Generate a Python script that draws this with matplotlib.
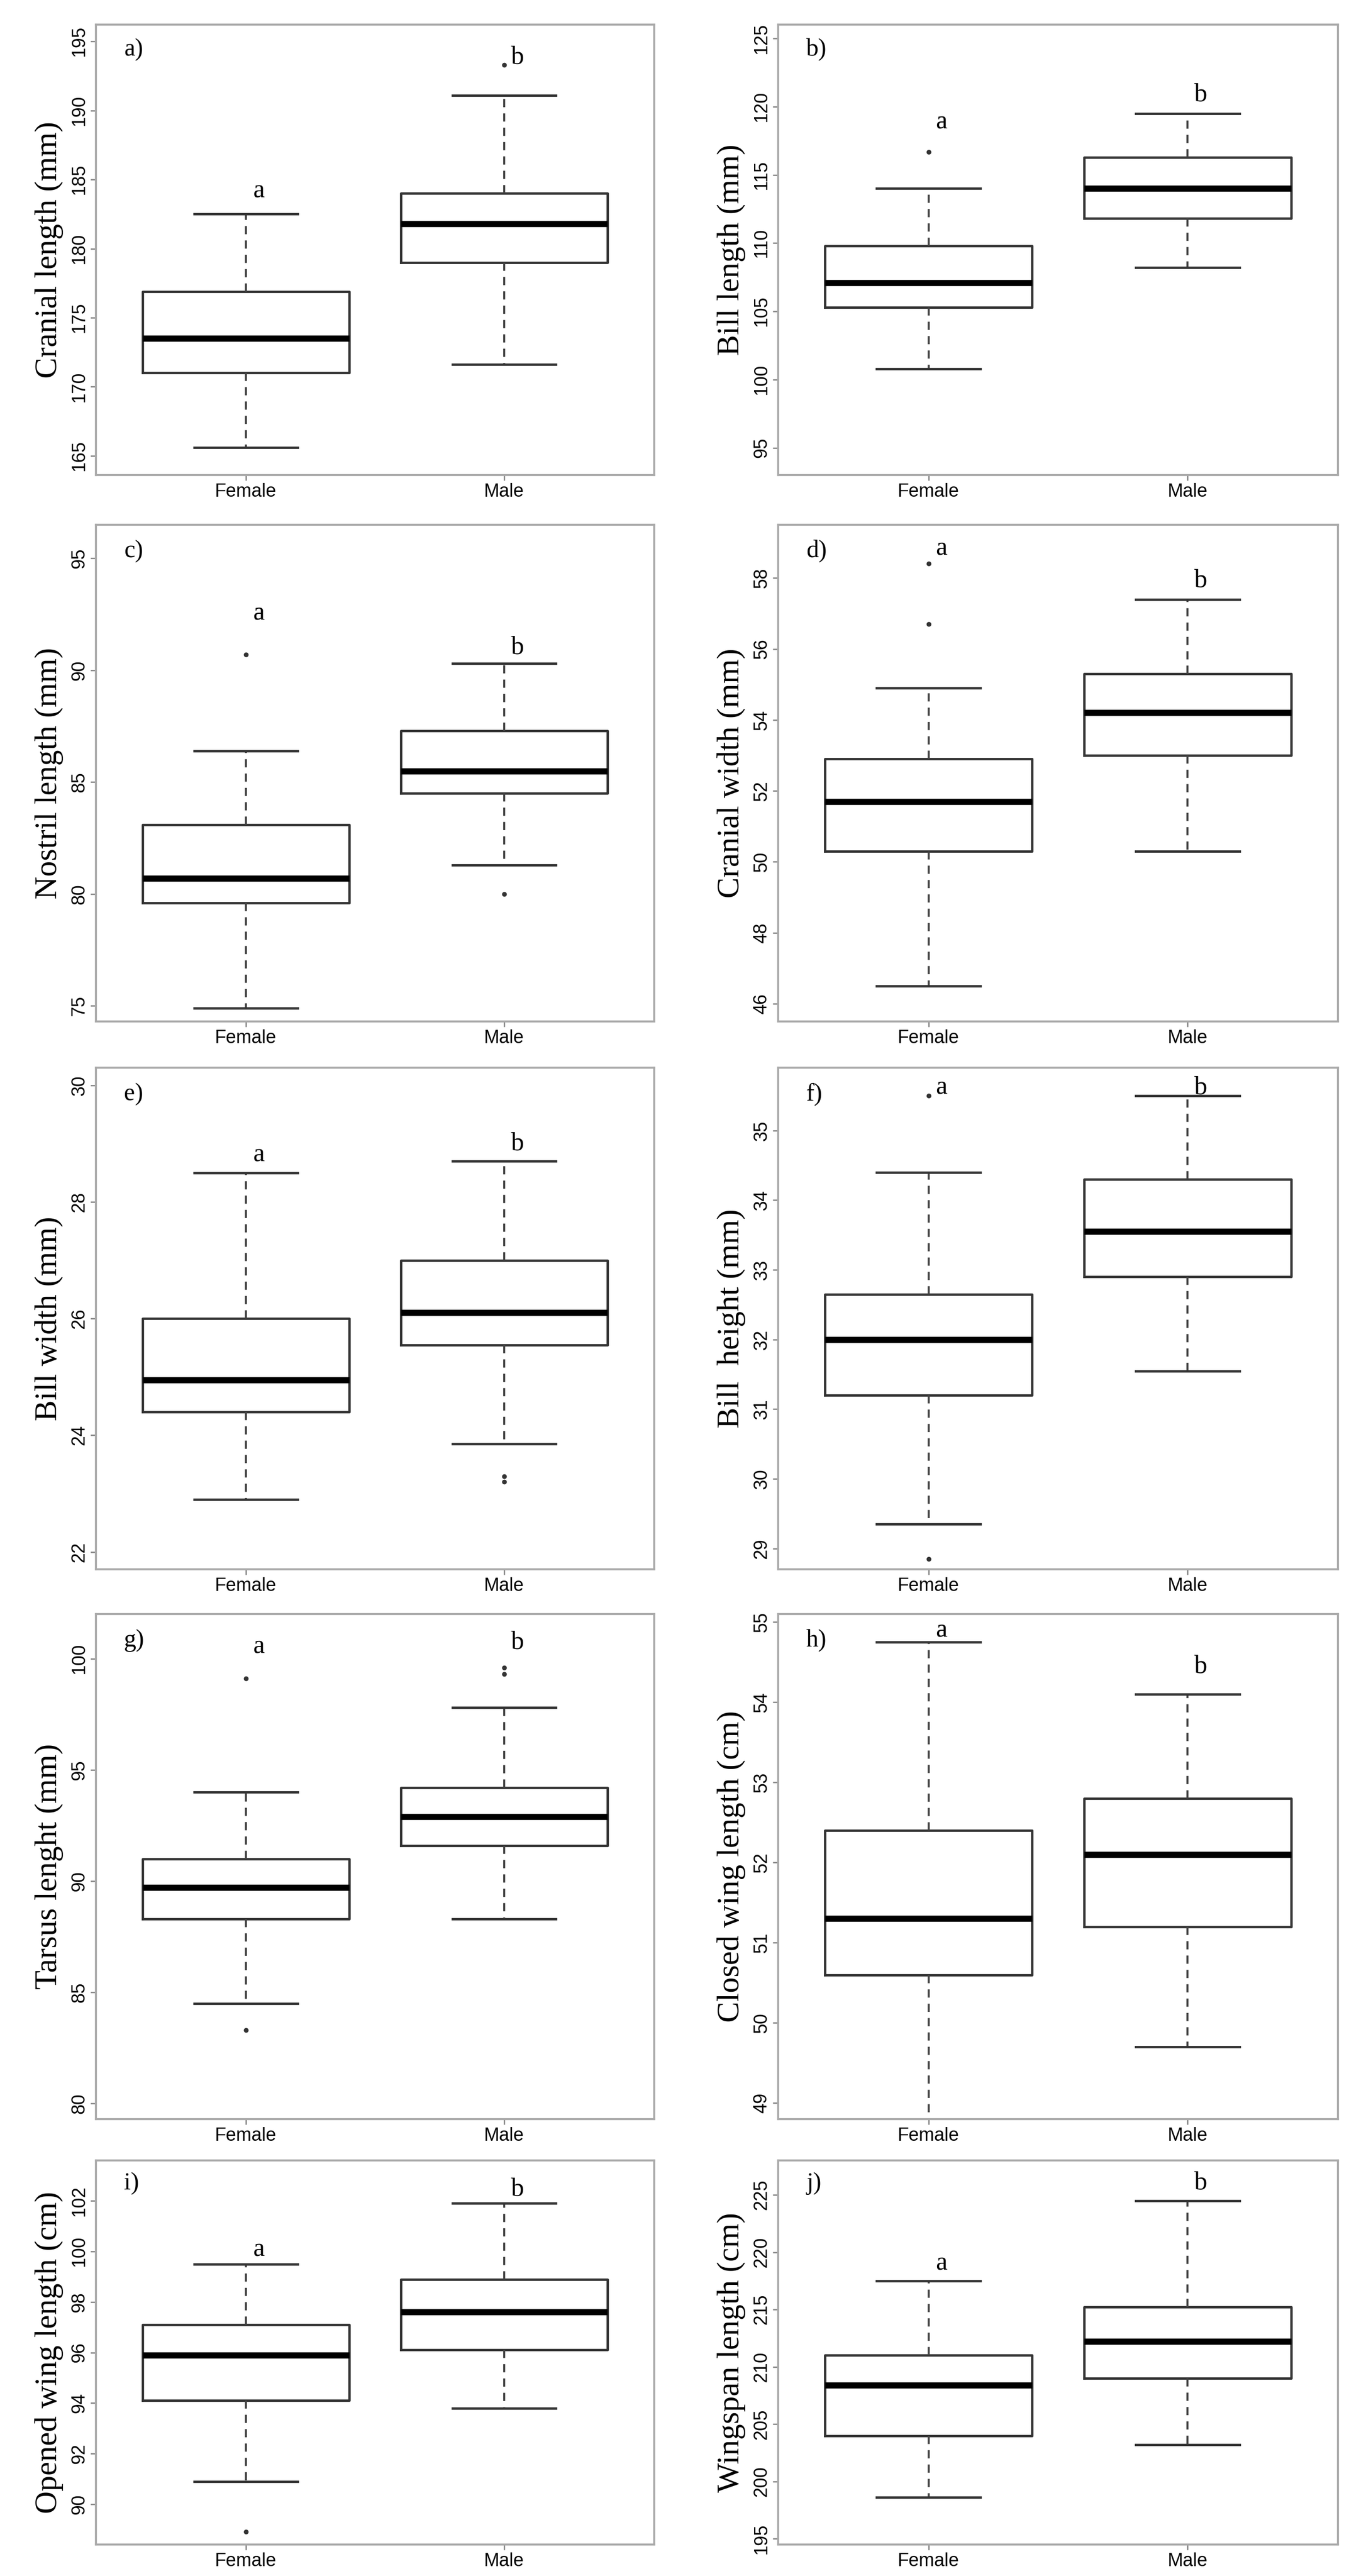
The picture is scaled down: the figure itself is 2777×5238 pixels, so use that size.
import matplotlib
matplotlib.use("Agg")
import matplotlib.pyplot as plt

groups = ["Female", "Male"]
panels = ["a)", "b)", "c)", "d)", "e)", "f)", "g)", "h)", "i)", "j)"]
ylabels = ["Cranial length (mm)", "Bill length (mm)", "Nostril length (mm)", "Cranial width (mm)",
           "Bill width (mm)", "Bill  height (mm)", "Tarsus lenght (mm)", "Closed wing length (cm)",
           "Opened wing length (cm)", "Wingspan length (cm)"]
# (whislo, q1, med, q3, whishi) for Female, Male
female = [(165.6, 171.0, 173.5, 176.9, 182.5), (100.8, 105.3, 107.1, 109.8, 114.0),
          (74.9, 79.6, 80.7, 83.1, 86.4), (46.5, 50.3, 51.7, 52.9, 54.9),
          (22.9, 24.4, 24.95, 26.0, 28.5), (29.35, 31.2, 32.0, 32.65, 34.4),
          (84.5, 88.3, 89.7, 91.0, 94.0), (48.8, 50.6, 51.3, 52.4, 54.75),
          (90.9, 94.1, 95.9, 97.1, 99.5), (198.6, 204.0, 208.4, 211.0, 217.5)]
male = [(171.6, 179.0, 181.8, 184.0, 191.1), (108.2, 111.8, 114.0, 116.3, 119.5),
        (81.3, 84.5, 85.5, 87.3, 90.3), (50.3, 53.0, 54.2, 55.3, 57.4),
        (23.85, 25.55, 26.1, 27.0, 28.7), (31.55, 32.9, 33.55, 34.3, 35.5),
        (88.3, 91.6, 92.9, 94.2, 97.8), (49.7, 51.2, 52.1, 52.8, 54.1),
        (93.8, 96.1, 97.6, 98.9, 101.9), (203.2, 209.0, 212.2, 215.2, 224.5)]
female_out = [[], [116.7], [90.7], [56.7, 58.4], [], [35.5, 28.85], [99.1, 83.3], [], [88.9], []]
male_out = [[193.3], [], [80.0], [], [23.3, 23.2], [], [99.3, 99.6], [], [], []]
letter_y = [(183.3, 193.0), (118.0, 120.0), (92.0, 90.5), (58.5, 57.6), (28.6, 28.8),
            (35.45, 35.45), (100.0, 100.2), (54.75, 54.3), (99.6, 102.0), (218.0, 225.0)]
ylims = [(163.6, 196.2), (93.0, 126.0), (74.3, 96.5), (45.5, 59.5), (21.7, 30.3),
         (28.7, 35.9), (79.3, 102.0), (48.8, 55.1), (88.4, 103.6), (194.5, 228.0)]
yticks = [range(165, 196, 5), range(95, 126, 5), range(75, 96, 5), range(46, 59, 2),
          range(22, 31, 2), range(29, 36), range(80, 101, 5), range(49, 56),
          range(90, 103, 2), range(195, 226, 5)]

W, H = 825.0, 1556.0
cols = [(58, 395), (470, 808)]
rows = [(15, 287), (317, 617), (645, 948), (975, 1280), (1305, 1537)]

serif = ["Liberation Serif", "DejaVu Serif"]
narrow = ["Liberation Sans Narrow", "Liberation Sans", "DejaVu Sans"]

fig = plt.figure(figsize=(27.77, 52.38), dpi=100)
for i in range(10):
    r, c = divmod(i, 2)
    x0, x1 = cols[c]
    y0, y1 = rows[r]
    ax = fig.add_axes([x0 / W, 1 - y1 / H, (x1 - x0) / W, (y1 - y0) / H])
    stats = []
    for vals, outs in ((female[i], female_out[i]), (male[i], male_out[i])):
        lo, q1, med, q3, hi = vals
        stats.append(dict(whislo=lo, q1=q1, med=med, q3=q3, whishi=hi, fliers=outs))
    ax.bxp(stats, positions=[1, 2], widths=0.8, capwidths=0.4, showfliers=True,
           boxprops=dict(color="#333333", linewidth=3.5),
           medianprops=dict(color="black", linewidth=9),
           whiskerprops=dict(color="#444444", linewidth=3, linestyle=(0, (4, 3))),
           capprops=dict(color="#333333", linewidth=3.5),
           flierprops=dict(marker="o", markersize=6, markerfacecolor="#333333",
                           markeredgecolor="#333333"))
    ax.set_xlim(0.42, 2.58)
    ax.set_ylim(*ylims[i])
    ax.set_yticks(list(yticks[i]))
    ax.set_xticks([1, 2])
    ax.set_xticklabels(groups, fontsize=27, family=narrow)
    for lab in ax.get_yticklabels():
        lab.set_rotation(90)
        lab.set_va("center")
        lab.set_fontsize(27)
        lab.set_family(narrow)
    ax.tick_params(length=8, width=2, color="#888888")
    for s in ax.spines.values():
        s.set_color("#aaaaaa")
        s.set_linewidth(3)
    ax.set_ylabel(ylabels[i], fontsize=46, family=serif, labelpad=10)
    ax.text(0.05, 0.97, panels[i], transform=ax.transAxes, fontsize=36, family=serif,
            va="top", ha="left")
    for pos, (lt, ly) in zip([1, 2], zip(["a", "b"], letter_y[i])):
        ax.text(pos + 0.05, ly, lt, fontsize=38, family=serif, ha="center", va="bottom")

fig.savefig("out.png", dpi=100, facecolor="white")
